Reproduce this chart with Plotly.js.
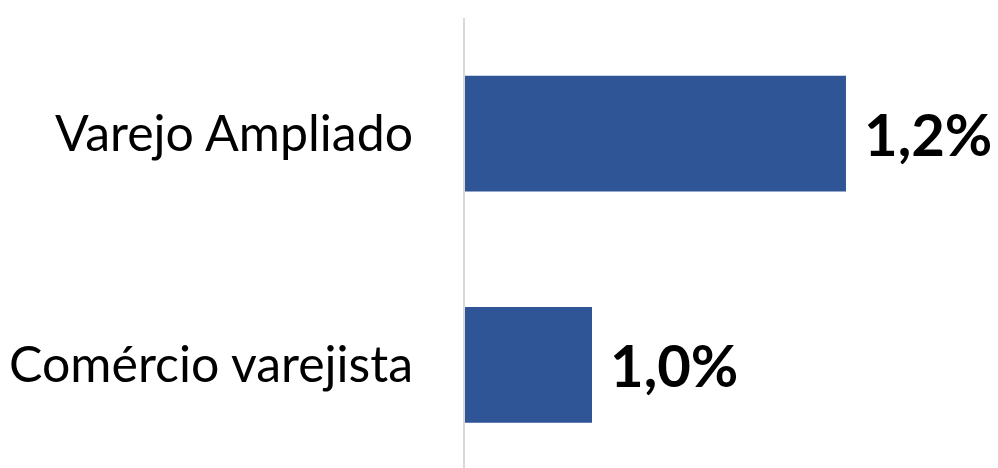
<!DOCTYPE html>
<html><head><meta charset="utf-8">
<script src="https://cdn.plot.ly/plotly-3.0.1.min.js"></script>
<style>html,body{margin:0;padding:0;background:#fff}#chart{width:998px;height:468px}</style>
</head><body><div id="chart"></div>
<script>
const categories = ["Comércio varejista", "Varejo Ampliado"];
const values = [1.0, 1.2];
const valueLabels = values.map(v => v.toFixed(1).replace('.', ',') + '%');

const trace = {
  type: 'bar', orientation: 'h',
  y: categories, x: values,
  marker: {color: '#2F5597'},
  width: 0.5,
  hoverinfo: 'skip'
};

const annotations = categories.map((c, i) => ({
  x: values[i], y: c, xref: 'x', yref: 'y',
  text: valueLabels[i], showarrow: false,
  xanchor: 'left', yanchor: 'middle', xshift: 16,
  font: {family: 'Lato', size: 58, color: '#000', weight: 'bold'}
}));

const layout = {
  width: 998, height: 468,
  margin: {l: 465, r: 0, t: 18, b: 0},
  paper_bgcolor: '#fff', plot_bgcolor: '#fff',
  font: {family: 'Lato', color: '#000'},
  showlegend: false,
  xaxis: {range: [0.9, 1.3197], visible: false, fixedrange: true},
  yaxis: {
    range: [-0.445, 1.499],
    showline: true, linecolor: '#d9d9d9', linewidth: 2,
    showgrid: false, zeroline: false,
    ticks: 'outside', ticklen: 40, tickcolor: 'rgba(0,0,0,0)',
    tickfont: {family: 'Lato', size: 50, color: '#000'},
    fixedrange: true
  },
  annotations: annotations
};

Plotly.newPlot('chart', [trace], layout, {displayModeBar: false, staticPlot: true});
</script></body></html>
